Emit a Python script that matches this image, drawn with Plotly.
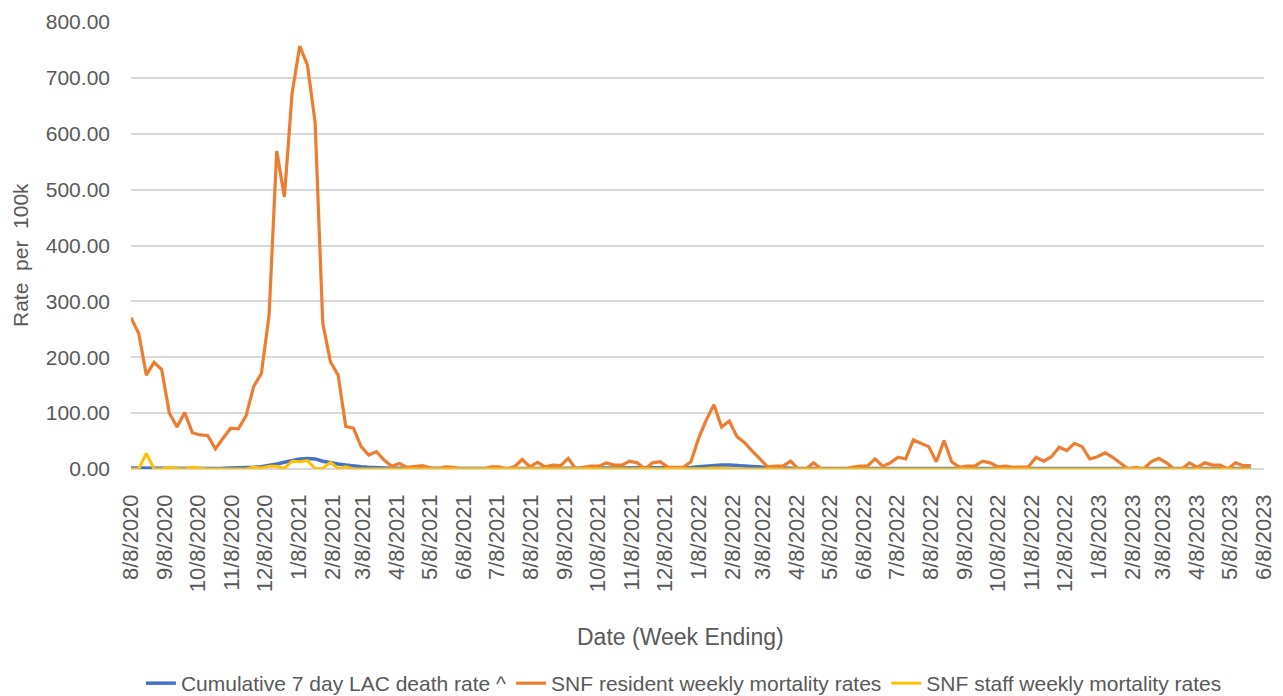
import pandas as pd
import plotly.graph_objects as go

# ---- data -------------------------------------------------------------
start_week = "2020-08-08"  # first week-ending date, weekly series

lac_rate = [
    2.0, 1.8, 1.6, 1.4, 1.3, 1.2, 1.1, 1.0, 1.0, 1.0,
    1.0, 1.1, 1.2, 1.4, 1.7, 2.2, 3.0, 4.0, 6.0, 9.0,
    12.0, 15.0, 18.0, 19.0, 18.0, 14.0, 11.0, 9.0, 7.0, 5.0,
    4.0, 3.0, 2.0, 1.5, 1.3, 1.2, 1.1, 1.0, 1.0, 1.0,
    1.0, 1.0, 1.0, 1.0, 1.0, 1.0, 1.0, 1.0, 1.0, 1.0,
    1.0, 1.0, 1.0, 1.0, 1.0, 1.0, 1.0, 1.0, 1.0, 1.0,
    1.0, 1.0, 1.0, 1.0, 1.0, 1.0, 1.0, 1.0, 1.0, 1.0,
    1.1, 1.2, 1.5, 2.5, 4.0, 5.5, 6.5, 7.0, 7.0, 6.5,
    5.5, 4.5, 3.5, 2.5, 1.8, 1.2, 1.0, 1.0, 1.0, 1.0,
    1.0, 1.0, 1.0, 1.0, 1.0, 1.0, 1.0, 1.0, 1.0, 1.0,
    1.0, 1.0, 1.0, 1.0, 1.0, 1.0, 1.0, 1.0, 1.0, 1.0,
    1.0, 1.0, 1.0, 1.0, 1.0, 1.0, 1.0, 1.0, 1.0, 1.0,
    1.0, 1.0, 1.0, 1.0, 1.0, 1.0, 1.0, 1.0, 1.0, 1.0,
    1.0, 1.0, 1.0, 1.0, 1.0, 1.0, 1.0, 1.0, 1.0, 1.0,
    1.0, 1.0, 1.0, 1.0, 1.0, 1.0, 1.0,
]

snf_resident = [
    271, 243, 168, 191, 178, 100, 75, 101, 65, 61,
    60, 36, 55, 73, 72, 95, 148, 171, 275, 569,
    487, 672, 757, 723, 621, 261, 192, 168, 76, 73,
    40, 25, 31, 16, 5, 10, 3, 4, 6, 2,
    0, 4, 3, 0, 0, 0, 0, 4, 4, 0,
    4, 17, 4, 12, 4, 7, 6, 19, 0, 3,
    5, 5, 11, 7, 7, 14, 11, 0, 11, 13,
    3, 3, 3, 13, 55, 88, 115, 75, 86, 58,
    47, 32, 17, 4, 5, 5, 14, 0, 0, 11,
    0, 0, 0, 0, 3, 5, 5, 18, 5, 11,
    21, 18, 52, 46, 40, 13, 51, 13, 3, 5,
    5, 14, 11, 4, 5, 3, 4, 4, 21, 14,
    22, 39, 33, 46, 40, 18, 22, 29, 21, 11,
    0, 3, 0, 13, 19, 11, 0, 0, 11, 3,
    11, 7, 7, 0, 11, 6, 6,
]

snf_staff = [
    0, 0, 28, 0, 0, 3, 1, 0, 3, 1,
    0, 0, 0, 0, 0, 0, 3, 2, 5, 5,
    1, 14, 13, 15, 1, 1, 12, 1, 4, 0,
    0, 0, 0, 0, 0, 0, 0, 0, 0, 0,
    0, 0, 0, 0, 0, 0, 0, 0, 0, 0,
    0, 0, 0, 0, 0, 0, 0, 0, 0, 0,
    0, 0, 0, 0, 0, 0, 0, 0, 0, 0,
    0, 0, 0, 0, 0, 1, 2, 2, 1, 0,
    0, 0, 0, 0, 0, 0, 0, 0, 0, 0,
    0, 0, 0, 0, 0, 0, 0, 0, 0, 0,
    0, 0, 0, 0, 0, 0, 0, 0, 0, 0,
    0, 0, 0, 0, 0, 0, 0, 0, 0, 0,
    0, 0, 0, 0, 0, 0, 0, 0, 0, 0,
    0, 0, 0, 0, 0, 0, 0, 0, 0, 0,
    0, 0, 0, 0, 0, 0, 0,
]

tick_labels = [
    "8/8/2020", "9/8/2020", "10/8/2020", "11/8/2020", "12/8/2020",
    "1/8/2021", "2/8/2021", "3/8/2021", "4/8/2021", "5/8/2021", "6/8/2021",
    "7/8/2021", "8/8/2021", "9/8/2021", "10/8/2021", "11/8/2021", "12/8/2021",
    "1/8/2022", "2/8/2022", "3/8/2022", "4/8/2022", "5/8/2022", "6/8/2022",
    "7/8/2022", "8/8/2022", "9/8/2022", "10/8/2022", "11/8/2022", "12/8/2022",
    "1/8/2023", "2/8/2023", "3/8/2023", "4/8/2023", "5/8/2023", "6/8/2023",
]

series_names = [
    "Cumulative 7 day LAC death rate ^",
    "SNF resident weekly mortality rates",
    "SNF staff weekly mortality rates",
]
series_colors = ["#4472C4", "#ED7D31", "#FFC000"]

# ---- figure -----------------------------------------------------------
dates = pd.date_range(start_week, periods=len(snf_resident), freq="7D")
tick_vals = [pd.to_datetime(t, format="%m/%d/%Y") for t in tick_labels]

FONT = "Liberation Sans, Arial, sans-serif"
GRAY = "#595959"

fig = go.Figure()
for name, vals, col, w in zip(series_names, [lac_rate, snf_resident, snf_staff],
                              series_colors, [3.5, 3.2, 3.0]):
    fig.add_trace(go.Scatter(x=dates, y=vals, mode="lines", name=name,
                             line=dict(color=col, width=w)))

# the page places the figure 8px from the top-left corner (body margin)
fig.update_layout(
    width=1275, height=688,
    margin=dict(l=123, r=19, t=14, b=227, autoexpand=False),
    paper_bgcolor="white", plot_bgcolor="white",
    font=dict(family=FONT, color=GRAY),
    showlegend=True,
    legend=dict(orientation="h", x=0.488, xanchor="center", y=-0.434, yanchor="top",
                font=dict(size=21, color=GRAY), itemwidth=30, traceorder="normal"),
    annotations=[
        dict(text="Rate  per  100k", xref="paper", yref="paper", x=-0.097, y=0.479,
             textangle=-90, showarrow=False, font=dict(size=21, color=GRAY),
             xanchor="center", yanchor="middle"),
        dict(text="Date (Week Ending)", xref="paper", yref="paper", x=0.4846, y=-0.376,
             showarrow=False, font=dict(size=23, color=GRAY),
             xanchor="center", yanchor="middle"),
    ],
)

fig.update_xaxes(
    type="date", range=[tick_vals[0], tick_vals[-1]],
    tickmode="array", tickvals=tick_vals, ticktext=tick_labels,
    tickangle=-90, tickfont=dict(size=22, color=GRAY),
    showgrid=False, showline=False, zeroline=False, ticks="",
    ticklabelstandoff=20, automargin=False,
)
fig.update_yaxes(
    range=[0, 800], dtick=100, tickformat=".2f",
    tickfont=dict(size=21, color=GRAY),
    showgrid=True, gridcolor="#D9D9D9", gridwidth=1.5,
    zeroline=True, zerolinecolor="#D9D9D9", zerolinewidth=1.5,
    showline=False, ticks="", ticklabelstandoff=20, automargin=False,
)

fig.write_html("out.html")
